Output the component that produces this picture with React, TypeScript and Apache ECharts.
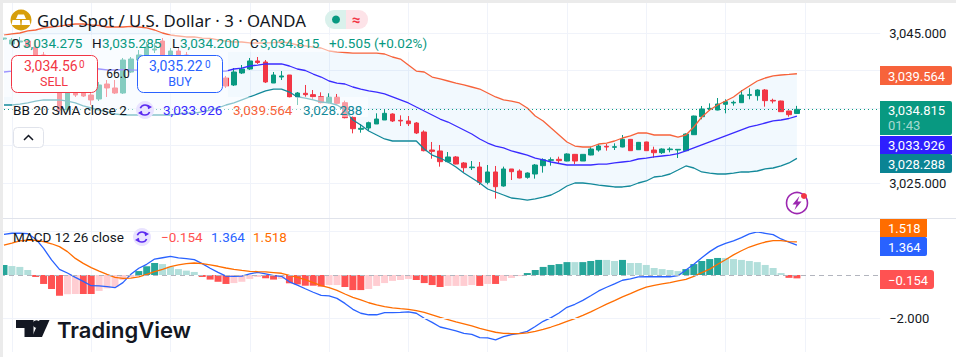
import React, { useEffect, useRef } from "react";
import * as echarts from "echarts";

const slotCount = 111;
const categories = Array.from({ length: slotCount }, (_, i) => String(i));

const opens = [3044.2,3043.53,3043.8,3043.93,3043.13,3042.07,3040.73,3038.73,3034.73,3037,3037,3036.73,3036.2,3038.2,3037.67,3037,3039.8,3041.4,3042.07,3042.73,3043.93,3042.07,3042.6,3042.07,3041.67,3041.13,3040.07,3040.6,3039,3038.07,3039.67,3040.2,3041.27,3041.13,3038.33,3039.13,3039.4,3036.47,3036.96,3036.78,3036.51,3035.71,3036.42,3035.71,3033.76,3032.16,3032.33,3032.87,3033.4,3034.2,3033.36,3033.27,3033,3031.8,3029.4,3029.27,3027.84,3028.47,3027.67,3027.04,3027.13,3025.09,3026.47,3024.6,3026.87,3026.6,3025.76,3026.2,3027.31,3028.02,3028.16,3027.93,3028.82,3027.93,3028.73,3029.4,3029.89,3029.76,3029.8,3030.82,3029.44,3030.47,3029.4,3029.04,3029.44,3029.4,3029.31,3031.44,3033.84,3034.87,3034.73,3035.49,3035.67,3035.71,3036.69,3036.64,3037.4,3036.02,3035.93,3034.6,3034.275];
const closes = [3044.33,3044.07,3043.93,3043.13,3042.07,3040.73,3038.73,3034.73,3037,3036.73,3036.6,3036.07,3038.07,3037.67,3037,3041.4,3041.53,3042.07,3043.13,3042.87,3042.07,3042.6,3042.07,3041.4,3041.13,3040.6,3040.87,3039,3037.93,3039.8,3040.2,3041.27,3041.07,3038.47,3039.4,3039.27,3036.47,3037,3036.78,3036.51,3035.71,3036.42,3035.62,3033.71,3032.24,3032.29,3033.04,3033.53,3034.29,3033.27,3033.27,3032.91,3031.67,3029.31,3029.22,3027.84,3028.47,3027.53,3027.04,3027.13,3025.09,3026.47,3024.51,3026.87,3026.51,3025.67,3026.33,3027.4,3028.11,3028.11,3027.98,3028.87,3027.93,3028.82,3029.53,3029.93,3029.8,3029.84,3030.82,3029.31,3030.42,3029.31,3029.04,3029.53,3029.53,3029.49,3031.53,3033.93,3034.87,3034.96,3035.53,3035.84,3035.76,3036.73,3036.78,3037.4,3035.98,3035.93,3034.51,3034.11,3034.815];
const lows = [3044.07,3043.27,3043,3043,3041.4,3040.07,3038.2,3034.47,3034.47,3036.47,3036.47,3035.4,3035.93,3036.47,3036.87,3036.87,3039.67,3041.13,3041.8,3042.33,3041.8,3041.67,3041.67,3041.13,3040.87,3040.33,3039.93,3038.73,3037.67,3037.93,3039.53,3040.07,3040.87,3038.33,3038.33,3038.73,3036.33,3035.4,3036.51,3036.07,3035.62,3035.62,3035.53,3033.62,3031.62,3031.71,3031.93,3032.87,3033.4,3033.13,3032.6,3032.6,3031.53,3029.22,3028.24,3027.18,3027.76,3027.49,3026.38,3026.73,3024.73,3024.82,3022.91,3024.51,3025.4,3025.62,3025.58,3025.58,3026.38,3027.31,3027.53,3027.89,3027.53,3027.93,3028.69,3029.18,3029.31,3029.4,3029.76,3029.27,3029.4,3029.27,3028.38,3028.87,3029.09,3028.33,3029.27,3031.4,3033.49,3034.6,3034.69,3034.29,3035.31,3035.67,3036.16,3035.98,3035.18,3035.62,3034.47,3033.84,3034.2];
const highs = [3044.33,3044.33,3044.47,3044.2,3044.07,3042.47,3041.13,3039.4,3037.67,3037.4,3037.4,3037,3038.47,3038.73,3038.73,3041.67,3041.8,3042.73,3043.8,3043.67,3044.33,3043,3043.13,3042.47,3041.93,3041.4,3041.13,3040.87,3039.27,3040.33,3040.73,3041.67,3041.8,3041.4,3039.8,3039.93,3039.4,3037.13,3038.07,3037.4,3037.09,3036.96,3036.87,3035.98,3033.93,3032.87,3033.18,3034.29,3034.73,3034.29,3034.02,3033.93,3033.13,3032.02,3030.47,3030.07,3029.13,3028.6,3027.8,3027.93,3027.8,3027.4,3027.27,3027.18,3026.87,3026.82,3026.42,3027.53,3028.29,3028.42,3028.51,3028.96,3028.87,3028.82,3029.84,3030.2,3030.2,3030.29,3031.4,3030.87,3030.47,3030.51,3029.84,3029.62,3029.76,3029.53,3031.62,3033.98,3035.27,3035.62,3036.33,3036.16,3035.98,3037.4,3037.62,3037.49,3037.53,3036.24,3035.98,3034.64,3035.285];

const bbUpper = [3044.73,3044.87,3045,3045.27,3045.4,3045.67,3045.8,3045.93,3046.07,3046.2,3046.2,3046.07,3046,3045.8,3045.8,3045.8,3045.87,3045.8,3045.67,3045.4,3045,3044.73,3044.6,3044.47,3044.47,3044.33,3044.27,3044.07,3043.93,3043.8,3043.8,3043.67,3043.67,3043.67,3043.73,3043.8,3043.67,3043.4,3043.27,3043.13,3043,3042.6,3042.47,3042.4,3042.33,3042.33,3042.33,3042.33,3042.2,3041.8,3041.53,3040.73,3039.93,3039.8,3039.13,3038.87,3038.6,3038.33,3038.07,3037.8,3037.53,3037,3036.47,3036.07,3035.93,3035.67,3035,3033.93,3033.27,3032.33,3031.4,3030.47,3029.93,3029.8,3029.8,3030.2,3030.33,3030.6,3031,3031.27,3031.67,3031.67,3031.4,3031.4,3031.4,3031.13,3031.4,3032.47,3033.8,3034.73,3035.4,3035.93,3036.47,3037.27,3037.93,3038.6,3039,3039.27,3039.4,3039.47,3039.564];
const bbBasis = [3039.8,3039.93,3040.2,3040.2,3040.33,3040.33,3040.33,3040.33,3040.2,3040.2,3040.2,3040.33,3040.2,3040.07,3040.07,3040.1,3040.07,3040.05,3040.07,3040.1,3040.07,3040.05,3040.07,3040.07,3040.05,3040,3039.93,3039.93,3039.93,3040.2,3040.33,3040.6,3040.73,3040.87,3040.87,3040.87,3040.6,3040.2,3040,3039.53,3039.13,3038.6,3038.33,3038.2,3037.8,3037.53,3037.27,3037.13,3036.87,3036.47,3036.07,3035.67,3035.13,3034.6,3034.07,3033.53,3033.13,3032.6,3032.07,3031.53,3030.87,3030.33,3029.93,3029.67,3029.27,3029,3028.73,3028.33,3028.07,3027.8,3027.6,3027.4,3027.4,3027.4,3027.4,3027.53,3027.53,3027.67,3027.8,3027.93,3028.2,3028.33,3028.47,3028.6,3028.73,3028.93,3029.27,3029.67,3030.07,3030.47,3030.87,3031.27,3031.67,3032.07,3032.47,3032.73,3033,3033.27,3033.4,3033.6,3033.926];
const bbLower = [3035.4,3035.4,3035.53,3035.67,3035.93,3036.07,3036.07,3036.07,3035.93,3035.67,3035.27,3035,3034.73,3034.47,3034.2,3034.07,3034.07,3034.07,3034.07,3034.07,3034.07,3034.07,3034.2,3034.33,3034.33,3034.47,3034.73,3035,3035.4,3035.67,3036.07,3036.47,3036.87,3037.27,3037.53,3037.53,3037.13,3036.47,3036.33,3036.07,3035.8,3035.67,3035.4,3034.73,3033.4,3032.73,3031.93,3031.4,3030.87,3030.6,3030.6,3030.6,3030.6,3029.53,3028.73,3028.33,3027.8,3027.13,3026.33,3025.67,3025,3024.2,3023.8,3023.4,3023,3022.87,3022.73,3022.87,3023.13,3023.4,3023.93,3024.6,3025,3025,3024.87,3024.73,3024.6,3024.47,3024.47,3024.6,3025,3025.27,3025.8,3025.93,3026.2,3026.73,3027.27,3027,3026.47,3026.33,3026.2,3026.2,3026.33,3026.47,3026.47,3026.6,3026.87,3027,3027.27,3027.67,3028.288];

const macdLine = [1.86,1.91,1.91,1.89,1.65,1.22,0.69,0.26,0.09,-0.11,-0.29,-0.49,-0.5,-0.53,-0.58,-0.35,0.03,0.31,0.49,0.73,0.79,0.85,0.78,0.75,0.7,0.52,0.31,0.12,-0.05,-0.06,-0.05,0.05,0.12,0.05,-0.03,-0.06,-0.31,-0.46,-0.63,-0.79,-0.93,-0.96,-1.07,-1.3,-1.57,-1.75,-1.82,-1.82,-1.72,-1.72,-1.71,-1.69,-1.75,-1.98,-2.17,-2.38,-2.47,-2.56,-2.67,-2.72,-2.87,-2.88,-2.97,-2.82,-2.73,-2.67,-2.58,-2.36,-2.12,-1.95,-1.74,-1.48,-1.34,-1.16,-0.95,-0.73,-0.56,-0.41,-0.24,-0.18,-0.09,-0.08,-0.08,-0.08,-0.08,-0.03,0.23,0.49,0.79,1.07,1.3,1.45,1.56,1.71,1.88,1.97,1.91,1.85,1.65,1.5,1.364];
const signalLine = [1.37,1.46,1.56,1.59,1.59,1.53,1.43,1.3,1.07,0.76,0.53,0.34,0.18,0.03,-0.11,-0.15,-0.14,-0.09,0.03,0.15,0.26,0.38,0.46,0.52,0.55,0.52,0.46,0.4,0.32,0.26,0.21,0.17,0.15,0.14,0.11,0.08,-0.02,-0.11,-0.21,-0.35,-0.49,-0.58,-0.7,-0.87,-1.02,-1.14,-1.27,-1.37,-1.45,-1.5,-1.54,-1.57,-1.63,-1.71,-1.82,-1.94,-2.04,-2.15,-2.24,-2.33,-2.44,-2.53,-2.62,-2.67,-2.68,-2.68,-2.65,-2.58,-2.49,-2.38,-2.26,-2.12,-2,-1.85,-1.69,-1.51,-1.33,-1.17,-1,-0.85,-0.69,-0.55,-0.47,-0.41,-0.35,-0.27,-0.2,-0.06,0.11,0.27,0.49,0.7,0.92,1.11,1.28,1.4,1.51,1.57,1.57,1.53,1.518];
const histogram = [0.46,0.41,0.37,0.23,-0.09,-0.41,-0.64,-0.95,-0.88,-0.87,-0.87,-0.87,-0.73,-0.61,-0.56,-0.23,-0.09,0.18,0.4,0.55,0.5,0.38,0.27,0.2,0.14,-0.09,-0.21,-0.31,-0.41,-0.37,-0.31,-0.18,-0.09,-0.15,-0.21,-0.18,-0.38,-0.43,-0.49,-0.49,-0.53,-0.46,-0.46,-0.55,-0.69,-0.69,-0.64,-0.5,-0.37,-0.27,-0.23,-0.18,-0.23,-0.37,-0.46,-0.55,-0.5,-0.5,-0.5,-0.46,-0.5,-0.41,-0.41,-0.27,-0.14,-0.05,0.09,0.23,0.37,0.46,0.5,0.59,0.59,0.59,0.64,0.69,0.69,0.64,0.69,0.55,0.55,0.46,0.32,0.27,0.23,0.18,0.27,0.5,0.64,0.73,0.78,0.78,0.73,0.69,0.64,0.59,0.46,0.32,0.09,-0.13,-0.154];
const histStrong = [1,0,0,0,1,1,1,1,0,0,1,1,0,0,0,0,0,1,1,1,0,0,0,0,0,1,1,1,1,0,0,0,0,1,1,0,1,1,1,1,1,0,0,1,1,1,0,0,0,0,0,0,1,1,1,1,0,0,0,0,1,0,1,0,0,0,1,1,1,1,1,1,0,1,1,1,0,0,1,0,0,0,0,0,0,0,1,1,1,1,1,0,0,0,0,0,0,0,0,1,1];

const priceTicks = [3025, 3045];
const macdTicks = [-2];
const macdGridValues = [2, -2];
const bidPrice = "3,034.56";
const askPrice = "3,035.22";
const bidAskLast = "0";
const countdown = "01:43";
const change = "+0.505 (+0.02%)";
const title = "Gold Spot / U.S. Dollar · 3 · OANDA";

const GREEN = "#089981";
const RED = "#F23645";
const BB_UP = "#F7633B";
const BB_MID = "#3A2BFF";
const BB_LOW = "#13899A";
const MACD_BLUE = "#2962FF";
const SIGNAL = "#FF6D00";
const INK = "#131722";
const GRID = "#F0F3FA";
const UI = "Roboto, sans-serif";

const fmt = (v: number) =>
  v.toLocaleString("en-US", { minimumFractionDigits: 3, maximumFractionDigits: 3 });
const fmtMinus = (v: number) => fmt(v).replace("-", "\u2212");

const txt = (text: string, x: number, y: number, fill: string, font = `13.5px ${UI}`, align = "left") => ({
  type: "text",
  z: 130,
  style: { text, x, y, fill, font, align, verticalAlign: "middle" },
});
const box = (x: number, y: number, w: number, h: number, fill: string, extra: any = {}, z = 110) => ({
  type: "rect",
  z,
  silent: true,
  shape: { x, y, width: w, height: h, r: extra.r ?? 0 },
  style: { fill, stroke: extra.stroke, lineWidth: extra.lineWidth },
});
const tag = (label: string, y: number, h: number, w: number, fill: string, r: any = 0) => [
  box(880, y, w, h, fill, { r }),
  txt(label, 888, y + h / 2 + 0.5, "#FFFFFF", `13px ${UI}`),
];
const reload = (cx: number, cy: number) => [
  { type: "circle", z: 120, shape: { cx, cy, r: 9 }, style: { fill: "#E9E3FF" } },
  { type: "arc", z: 125, shape: { cx, cy, r: 5, startAngle: 3.5, endAngle: 5.9 }, style: { stroke: "#5B2BF0", lineWidth: 1.6, fill: "none" } },
  { type: "arc", z: 125, shape: { cx, cy, r: 5, startAngle: 0.4, endAngle: 2.8 }, style: { stroke: "#5B2BF0", lineWidth: 1.6, fill: "none" } },
  { type: "polygon", z: 125, shape: { points: [[cx + 2.5, cy - 5.5], [cx + 7, cy - 3], [cx + 3, cy - 0.8]] }, style: { fill: "#5B2BF0" } },
  { type: "polygon", z: 125, shape: { points: [[cx - 2.5, cy + 5.5], [cx - 7, cy + 3], [cx - 3, cy + 0.8]] }, style: { fill: "#5B2BF0" } },
];

function graphics() {
  const n = closes.length - 1;
  return [
    // translucent legend backing
    box(3, 35, 225, 62, "rgba(255,255,255,0.5)", {}, 100),
    box(228, 35, 204, 17, "rgba(255,255,255,0.5)", {}, 100),
    box(228, 97, 140, 20, "rgba(255,255,255,0.5)", {}, 100),
    box(12, 97, 216, 20, "rgba(255,255,255,0.5)", {}, 100),
    // pane separator and outer frame
    box(3, 218, 953, 1, "#E0E3EB"),
    box(0, 0, 956, 3, "#EBEBEB", {}, 140),
    box(0, 0, 3, 357, "#EBEBEB", {}, 140),
    // header
    { type: "circle", z: 120, shape: { cx: 21, cy: 20, r: 10.5 }, style: { fill: "#D79E0B" } },
    { type: "polygon", z: 125, shape: { points: [[18, 14.5], [24, 14.5], [26, 19], [16, 19]] }, style: { fill: "#FFFFFF" } },
    { type: "polygon", z: 125, shape: { points: [[12.5, 20], [20, 20], [20.5, 25], [11.5, 25]] }, style: { fill: "#FFFFFF" } },
    { type: "polygon", z: 125, shape: { points: [[22, 20], [29.5, 20], [30.5, 25], [21.5, 25]] }, style: { fill: "#FFFFFF" } },
    txt(title, 37, 20, INK, `16.8px 'Noto Sans', sans-serif`),
    box(325, 10, 21, 19, "#DAF1EC", { r: [9, 0, 0, 9] }, 120),
    box(346, 10, 22, 19, "#FDE3E8", { r: [0, 9, 9, 0] }, 120),
    { type: "circle", z: 125, shape: { cx: 336, cy: 19.5, r: 4 }, style: { fill: GREEN } },
    txt("≈", 356, 19.5, RED, `bold 15px ${UI}`, "center"),
    // ohlc row
    txt("O", 11, 43, INK),
    txt(fmt(opens[n]), 23, 43, GREEN),
    txt("H", 92, 43, INK),
    txt(fmt(highs[n]), 102, 43, GREEN),
    txt("L", 172, 43, INK),
    txt(fmt(lows[n]), 180, 43, GREEN),
    txt("C", 250, 43, INK),
    txt(fmt(closes[n]), 260, 43, GREEN),
    txt(change, 329, 43, GREEN),
    // sell & buy
    box(11.5, 55.5, 86, 37, "#FFFFFF", { r: 6, stroke: RED, lineWidth: 1 }, 120),
    txt(bidPrice, 24, 66, RED, `14px ${UI}`),
    txt(bidAskLast, 79, 64.5, RED, `10px ${UI}`),
    txt("SELL", 54, 81, RED, `12.5px ${UI}`, "center"),
    box(137.5, 55.5, 85, 37, "#FFFFFF", { r: 6, stroke: MACD_BLUE, lineWidth: 1 }, 120),
    txt(askPrice, 149, 66, MACD_BLUE, `14px ${UI}`),
    txt(bidAskLast, 205, 64.5, MACD_BLUE, `10px ${UI}`),
    txt("BUY", 180, 81, MACD_BLUE, `12.5px ${UI}`, "center"),
    txt("66.0", 118, 74, INK, `12px ${UI}`, "center"),
    // bollinger row
    txt("BB 20 SMA close 2", 13, 110, INK),
    ...reload(145, 110),
    txt(fmt(bbBasis[n]), 163, 110, BB_MID),
    txt(fmt(bbUpper[n]), 233, 110, BB_UP),
    txt(fmt(bbLower[n]), 303, 110, BB_LOW),
    // collapse button
    box(13.5, 127.5, 30, 20, "#FFFFFF", { r: 4, stroke: "#E0E3EB", lineWidth: 1 }, 120),
    { type: "polyline", z: 125, shape: { points: [[24, 140], [28.5, 135.5], [33, 140]] }, style: { stroke: INK, lineWidth: 1.5, fill: "none" } },
    // macd row
    txt("MACD 12 26 close", 13, 237, INK),
    ...reload(142, 237),
    txt(fmtMinus(histogram[n]), 161, 237, "#FF5252"),
    txt(fmt(macdLine[n]), 211, 237, MACD_BLUE),
    txt(fmt(signalLine[n]), 253, 237, SIGNAL),
    // lightning badge
    { type: "circle", z: 120, shape: { cx: 797, cy: 203, r: 10.5 }, style: { fill: "#FFFFFF", stroke: "#9C27B0", lineWidth: 1.6 } },
    { type: "polygon", z: 125, shape: { points: [[799.5, 196], [792.5, 204.5], [796.5, 204.5], [794.5, 210], [801.5, 201.5], [797.5, 201.5]] }, style: { fill: "#9C27B0" } },
    { type: "circle", z: 126, shape: { cx: 804, cy: 196, r: 3 }, style: { fill: RED } },
    // price tags
    ...tag(fmt(bbUpper[n]), 66, 19, 72, BB_UP, [0, 2, 2, 0]),
    box(880, 101, 72, 34, GREEN, { r: [0, 2, 2, 0] }),
    txt(fmt(closes[n]), 888, 110, "#FFFFFF", `13px ${UI}`),
    txt(countdown, 888, 125, "rgba(255,255,255,0.65)", `13px ${UI}`),
    ...tag(fmt(bbBasis[n]), 136, 18, 72, "#2E1FFF"),
    ...tag(fmt(bbLower[n]), 154, 19, 72, "#0A8494", [0, 2, 2, 0]),
    ...tag(fmt(signalLine[n]), 219, 18, 47, SIGNAL),
    ...tag(fmt(macdLine[n]), 237, 19, 47, MACD_BLUE, [0, 2, 2, 0]),
    ...tag(fmtMinus(histogram[n]), 270, 19, 54, "#FF5252", [0, 3, 3, 0]),
    // logo
    { type: "polygon", z: 125, shape: { points: [[16, 320], [33.5, 320], [33.5, 337], [24.5, 337], [24.5, 328], [16, 328]] }, style: { fill: INK } },
    { type: "circle", z: 125, shape: { cx: 36.5, cy: 324, r: 3.8 }, style: { fill: INK } },
    { type: "polygon", z: 125, shape: { points: [[39.5, 320], [49.5, 320], [42, 337], [32, 337]] }, style: { fill: INK } },
    txt("TradingView", 57, 329.5, INK, `600 22px Inter, sans-serif`),
  ];
}

export default function App() {
  const ref = useRef<HTMLDivElement>(null);
  useEffect(() => {
    const chart = echarts.init(ref.current!, undefined, { renderer: "svg" });
    const candleData = closes.map((c, i) => [opens[i], c, lows[i], highs[i]]);
    const bandRange = bbUpper.map((u, i) => +(u - bbLower[i]).toFixed(3));
    const histData = histogram.map((v, i) => ({
      value: v,
      itemStyle: {
        color: v >= 0 ? (histStrong[i] ? "#26A69A" : "#B2DFDB") : histStrong[i] ? "#FF5252" : "#FFCDD2",
      },
    }));
    const xAxisBase = (gridIndex: number) => ({
      type: "category",
      gridIndex,
      data: categories,
      axisLine: { show: false },
      axisTick: { show: false },
      axisLabel: { show: false },
      splitLine: {
        show: true,
        alignWithLabel: true,
        interval: (i: number) => i % 10 === 1,
        lineStyle: { color: GRID, width: 1 },
      },
    });
    const yAxisBase = {
      type: "value",
      position: "right",
      axisLine: { show: false },
      axisTick: { show: false },
    };
    const lineBase = { type: "line", showSymbol: false, symbol: "none", silent: true };
    chart.setOption({
      animation: false,
      backgroundColor: "#FFFFFF",
      grid: [
        { left: -1.62, top: 3, width: 881.8, height: 217.5 },
        { left: -1.62, top: 219, width: 881.8, height: 133 },
      ],
      xAxis: [xAxisBase(0), xAxisBase(1)],
      yAxis: [
        {
          ...yAxisBase,
          gridIndex: 0,
          min: 3020,
          max: 3049,
          interval: 5,
          splitLine: { show: true, showMinLine: false, showMaxLine: false, lineStyle: { color: GRID, width: 1 } },
          axisLabel: {
            customValues: priceTicks,
            formatter: (v: number) => fmt(v),
            color: INK,
            fontFamily: "Roboto",
            fontSize: 13,
            margin: 9,
            align: "left",
          },
        },
        {
          ...yAxisBase,
          gridIndex: 1,
          min: -3.524,
          max: 2.563,
          splitLine: { show: false },
          axisLabel: {
            customValues: macdTicks,
            formatter: (v: number) => fmtMinus(v),
            color: INK,
            fontFamily: "Roboto",
            fontSize: 13,
            margin: 9,
            align: "left",
          },
        },
      ],
      graphic: { elements: graphics() },
      series: [
        { ...lineBase, name: "band base", data: bbLower, stack: "bb", lineStyle: { width: 0, opacity: 0 }, z: 1 },
        {
          ...lineBase,
          name: "band",
          data: bandRange,
          stack: "bb",
          lineStyle: { width: 0, opacity: 0 },
          areaStyle: { color: "rgba(33,150,243,0.06)", opacity: 1 },
          z: 1,
        },
        {
          type: "candlestick",
          name: "XAUUSD",
          data: candleData,
          barWidth: 5,
          z: 3,
          silent: true,
          itemStyle: { color: GREEN, color0: RED, borderColor: GREEN, borderColor0: RED, borderWidth: 1 },
          markLine: {
            silent: true,
            symbol: "none",
            label: { show: false },
            lineStyle: { color: GREEN, type: [1, 3], width: 1 },
            data: [{ yAxis: closes[closes.length - 1] }],
          },
        },
        { ...lineBase, name: "Upper", data: bbUpper, z: 4, lineStyle: { color: BB_UP, width: 1.3 } },
        { ...lineBase, name: "Basis", data: bbBasis, z: 4, lineStyle: { color: BB_MID, width: 1.3 } },
        { ...lineBase, name: "Lower", data: bbLower, z: 4, lineStyle: { color: BB_LOW, width: 1.3 } },
        {
          type: "bar",
          name: "Histogram",
          xAxisIndex: 1,
          yAxisIndex: 1,
          data: histData,
          barWidth: 7,
          silent: true,
          z: 2,
          markLine: {
            silent: true,
            symbol: "none",
            label: { show: false },
            data: [
              { yAxis: 0, lineStyle: { color: "#B2B5BE", type: [5, 4], width: 1 } },
              ...macdGridValues.map((v) => ({ yAxis: v, lineStyle: { color: GRID, type: "solid", width: 1 } })),
            ],
          },
        },
        { ...lineBase, name: "MACD", xAxisIndex: 1, yAxisIndex: 1, data: macdLine, z: 4, lineStyle: { color: MACD_BLUE, width: 1.3 } },
        { ...lineBase, name: "Signal", xAxisIndex: 1, yAxisIndex: 1, data: signalLine, z: 4, lineStyle: { color: SIGNAL, width: 1.3 } },
      ],
    });
    return () => chart.dispose();
  }, []);
  return <div ref={ref} style={{ position: "absolute", left: 0, top: 0, width: 956, height: 357 }} />;
}
